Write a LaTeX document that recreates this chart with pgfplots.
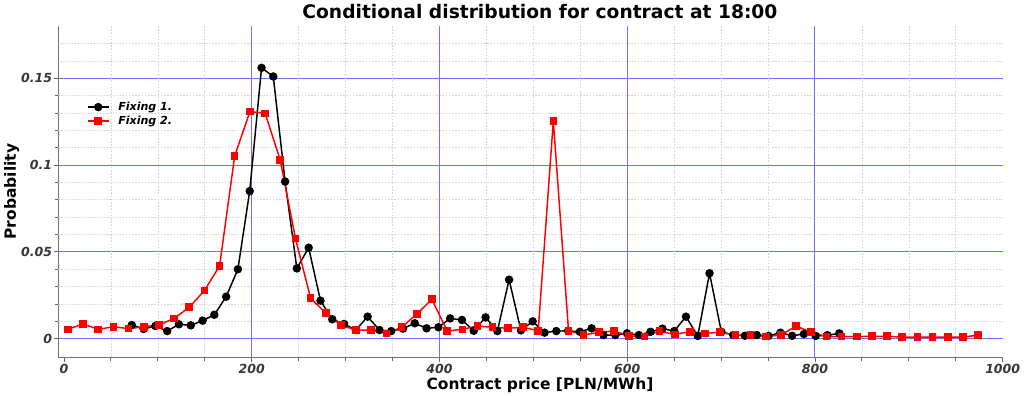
\documentclass[border=0pt]{standalone}
\usepackage{fontspec}
\setmainfont{DejaVu Sans}[BoldFont={DejaVu Sans Bold},ItalicFont={DejaVu Sans Oblique},BoldItalicFont={DejaVu Sans Bold Oblique}]
\usepackage{pgfplots}
\pgfplotsset{compat=1.18}
\definecolor{gridblue}{RGB}{110,110,255}
\definecolor{ticklab}{RGB}{55,55,55}
\begin{document}
\begin{tikzpicture}
\useasboundingbox (-43.725pt,-29.025pt) rectangle (724.275pt,267.975pt);
\begin{axis}[
  at={(0pt,0pt)}, anchor=south west,
  scale only axis, width=708.3pt, height=248.5pt,
  xmin=-6, xmax=1000, ymin=-0.0107, ymax=0.1801,
  axis x line*=bottom, axis y line*=left,
  axis line style={draw=black!55, line width=0.6pt, -},
  tick align=outside,
  major tick length=3.4pt, minor tick length=2.4pt,
  tick style={draw=black!60, line width=0.6pt},
  xtick={0,200,400,600,800,1000},
  minor x tick num=3,
  ytick={0,0.05,0.1,0.15},
  minor y tick num=4,
  xmajorgrids=false, xminorgrids=false, ymajorgrids=true, yminorgrids=false,
  major grid style={draw=gridblue, line width=0.7pt},
  /pgf/number format/assume math mode=true,
  /pgf/number format/set thousands separator={},
  yticklabel style={/pgf/number format/fixed, /pgf/number format/precision=2, inner sep=1pt},
  xticklabel style={inner sep=1.5pt},
  ticklabel style={font=\fontsize{9.4}{11}\selectfont\bfseries\itshape, text=ticklab},
  title={Conditional distribution for contract at 18:00},
  title style={at={(axis description cs:0.510,0.997)}, anchor=base, font=\fontsize{14}{16}\selectfont\bfseries, inner sep=0pt},
  xlabel={Contract price [PLN/MWh]},
  xlabel style={at={(axis description cs:0.510,-0.0958)}, anchor=base, font=\fontsize{11.6}{13}\selectfont\bfseries, inner sep=0pt},
  ylabel={Probability},
  ylabel style={at={(axis description cs:-0.0448,0.5)}, anchor=base, font=\fontsize{11.6}{13}\selectfont\bfseries, inner sep=0pt},
  legend style={at={(axis description cs:0.030,0.775)}, anchor=north west, draw=none, fill=none, inner sep=0pt,
    font=\fontsize{8.3}{9}\selectfont\bfseries\itshape,
    nodes={inner sep=1pt, text height=6pt, text depth=1.5pt}, row sep=1pt},
  legend cell align=left,
  legend image code/.code={\draw[mark repeat=2,mark phase=2,#1] plot coordinates {(0cm,0cm)(0.28cm,0cm)(0.56cm,0cm)}; \path (0.56cm+5.5pt,0cm);},
]
\pgfplotsinvokeforeach{50,100,150,250,300,350,450,500,550,650,700,750,850,900,950}{
  \draw[black!17, dash pattern=on 1.2pt off 1.2pt, line width=0.45pt] (axis cs:#1,-0.0107) -- (axis cs:#1,0.1801);
}
\pgfplotsinvokeforeach{0.01,0.02,0.03,0.04,0.06,0.07,0.08,0.09,0.11,0.12,0.13,0.14,0.16,0.17}{
  \draw[black!17, dash pattern=on 1.2pt off 1.2pt, line width=0.45pt] (axis cs:-6,#1) -- (axis cs:1000,#1);
}
\pgfplotsinvokeforeach{200,400,600,800}{
  \draw[gridblue, line width=0.7pt] (axis cs:#1,-0.0107) -- (axis cs:#1,0.1801);
}
\addplot[black, line width=1.1pt, mark=*, mark size=2.6pt, mark options={solid, fill=black}] coordinates {
(72.3,0.0079)(84.9,0.0056)(97.4,0.0073)(110.0,0.0044)(122.5,0.0083)(135.1,0.0077)(147.7,0.0104)(160.2,0.0138)
(172.8,0.0242)(185.3,0.0400)(197.9,0.0850)(210.5,0.1560)(223.0,0.1510)(235.6,0.0905)(248.1,0.0405)(260.7,0.0524)
(273.3,0.0219)(285.8,0.0112)(298.4,0.0085)(310.9,0.0050)(323.5,0.0127)(336.1,0.0050)(348.6,0.0044)(361.2,0.0058)
(373.7,0.0089)(386.3,0.0060)(398.9,0.0066)(411.4,0.0117)(424.0,0.0108)(436.5,0.0046)(449.1,0.0123)(461.7,0.0044)
(474.2,0.0340)(486.8,0.0048)(499.3,0.0100)(511.9,0.0035)(524.5,0.0044)(537.0,0.0045)(549.6,0.0040)(562.1,0.0060)
(574.7,0.0021)(587.3,0.0021)(599.8,0.0031)(612.4,0.0021)(624.9,0.0040)(637.5,0.0058)(650.1,0.0044)(662.6,0.0127)
(675.2,0.0016)(687.7,0.0377)(700.3,0.0040)(712.9,0.0021)(725.4,0.0017)(738.0,0.0021)(750.5,0.0016)(763.1,0.0035)
(775.7,0.0017)(788.2,0.0027)(800.8,0.0016)(813.3,0.0020)(825.9,0.0031)
};
\addlegendentry{Fixing 1.}
\addplot[red, line width=1.1pt, mark=square*, mark size=2.3pt, mark options={solid, fill=red}] coordinates {
(4.2,0.0054)(20.4,0.0085)(36.5,0.0054)(52.7,0.0069)(68.8,0.0058)(85.0,0.0069)(101.2,0.0079)(117.3,0.0117)
(133.5,0.0181)(149.6,0.0277)(165.8,0.0419)(181.9,0.1052)(198.1,0.1308)(214.3,0.1298)(230.4,0.1029)(246.6,0.0578)
(262.8,0.0233)(278.9,0.0148)(295.1,0.0078)(311.2,0.0050)(327.4,0.0050)(343.6,0.0031)(359.7,0.0066)(375.9,0.0142)
(392.0,0.0227)(408.2,0.0044)(424.4,0.0054)(440.5,0.0073)(456.7,0.0066)(472.8,0.0060)(489.0,0.0066)(505.2,0.0046)
(521.3,0.1254)(537.5,0.0046)(553.6,0.0021)(569.8,0.0037)(586.0,0.0044)(602.1,0.0017)(618.3,0.0012)(634.4,0.0043)
(650.6,0.0025)(666.8,0.0040)(682.9,0.0031)(699.1,0.0037)(715.2,0.0021)(731.4,0.0021)(747.6,0.0012)(763.7,0.0021)
(779.9,0.0073)(796.0,0.0037)(812.2,0.0012)(828.4,0.0012)(844.5,0.0012)(860.7,0.0014)(876.8,0.0014)(893.0,0.0009)
(909.2,0.0009)(925.3,0.0009)(941.5,0.0009)(957.6,0.0009)(973.8,0.0021)
};
\addlegendentry{Fixing 2.}
\end{axis}
\end{tikzpicture}
\end{document}
